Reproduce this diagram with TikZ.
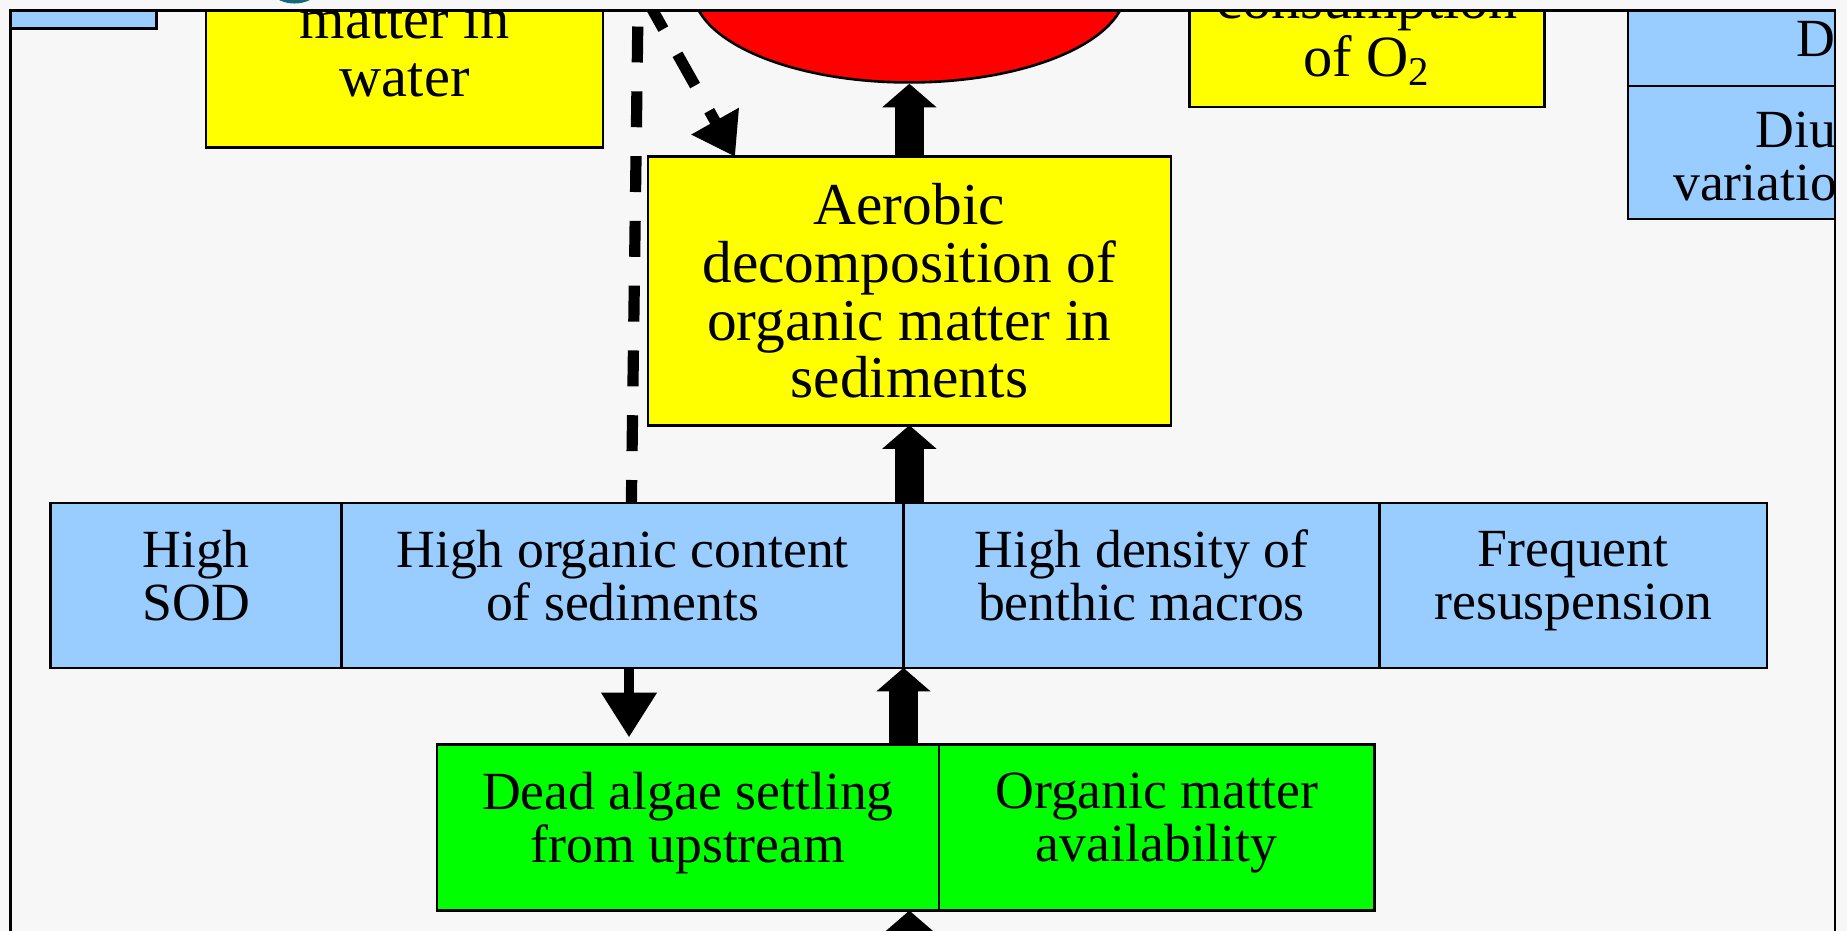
\documentclass[tikz,border=0pt]{standalone}
\usepackage{fontspec}
\setmainfont{Liberation Serif}
\usetikzlibrary{arrows.meta,positioning,shapes.geometric}

\definecolor{slidegray}{RGB}{247,247,247}
\definecolor{cellblue}{RGB}{153,204,255}
\definecolor{cellyellow}{RGB}{255,255,0}
\definecolor{cellgreen}{RGB}{0,255,0}
\definecolor{cellred}{RGB}{255,0,0}
\definecolor{logoteal}{RGB}{22,104,124}

\newcommand{\smallcellfont}{\fontsize{22.8}{22.5}\selectfont}
\newcommand{\bigcellfont}{\fontsize{24.8}{24.5}\selectfont}
\newcommand{\celldepth}{\rule[-8.5pt]{0pt}{8.5pt}}

\begin{document}
\begin{tikzpicture}[x=0.5pt,y=-0.5pt]

\tikzstyle{cell}=[draw,line width=1.1pt,inner sep=0pt,outer sep=0pt,align=center]
\tikzstyle{blue cell}=[cell,fill=cellblue,font=\smallcellfont,minimum height=70pt,execute at end node=\celldepth]
\tikzstyle{green cell}=[cell,fill=cellgreen,font=\smallcellfont,minimum height=70.5pt,execute at end node=\celldepth]
\tikzstyle{yellow cell}=[cell,fill=cellyellow,font=\bigcellfont]
\tikzstyle{cut text}=[inner sep=0pt,align=center]
\tikzstyle{fat arrow}=[line width=12pt,-{Triangle[width=22.5pt,length=10pt]}]
\tikzstyle{thin arrow}=[line width=4.5pt,-{Triangle[width=22.5pt,length=19pt]}]
\tikzstyle{dash arrow}=[line width=4.75pt,dash pattern=on 15.25pt off 12.25pt]

\useasboundingbox (0,0) rectangle (1568,790);
\fill[slidegray] (0,0) rectangle (1568,790);
\fill[logoteal] (250,-27) circle[radius=30];

\begin{scope}
\clip (9,9) rectangle (1558,800);

\node[cell,fill=cellblue,minimum width=62pt,minimum height=22pt] (corner) at (71,2) {};

\node[yellow cell,minimum width=168.5pt,minimum height=100pt] (waterbox) at (343.5,25) {};
\node[cut text,font=\bigcellfont,anchor=base] (watertext) at (343.5,82) {matter in\\water};

\node[ellipse,draw,line width=1.1pt,fill=cellred,minimum width=184pt,minimum height=80pt,inner sep=0pt] (oxygen) at (772,-10) {};

\node[yellow cell,minimum width=150.5pt,minimum height=91pt] (o2box) at (1160.5,0) {};
\node[cut text,font=\bigcellfont,anchor=base] (o2text) at (1160.5,65) {consumption\\of O\textsubscript{2}};

\node[cell,fill=cellblue,minimum width=159pt,minimum height=56.5pt] (dobox) at (1541,16.5) {};
\node[cell,fill=cellblue,minimum width=159pt,minimum height=56.5pt] (diurnalbox) at (1541,129.5) {};
\node[cut text,font=\smallcellfont,anchor=base west] (dotext) at (1525,48) {DO};
\node[cut text,font=\smallcellfont,anchor=base west] (diurnaltext) at (1490,125) {Diurnal};
\node[cut text,font=\smallcellfont,anchor=base west] (variationtext) at (1420,170) {variation};

\node[yellow cell,minimum width=222pt,minimum height=114pt,font=\fontsize{25.2}{24.5}\selectfont] (aerobic) at (772,247)
  {Aerobic\\decomposition of\\organic matter in\\sediments};

\node[blue cell,minimum width=123.5pt] (sod) at (166.5,497) {High\\SOD};
\node[blue cell,minimum width=238.5pt,right=0pt of sod] (organic) {High organic content\\of sediments};
\node[blue cell,minimum width=202pt,right=0pt of organic] (benthic) {High density of\\benthic macros};
\node[blue cell,minimum width=164.5pt,right=0pt of benthic] (resusp) {Frequent\\resuspension};

\node[green cell,minimum width=213pt] (algae) at (584,702.5) {Dead algae settling\\from upstream};
\node[green cell,minimum width=185pt,right=0pt of algae] (availability) {Organic matter\\availability};

\coordinate (upper end) at (542,-20);
\coordinate (slant start) at (538,-20);
\coordinate (lower end) at (772,840);

\draw[fat arrow] (aerobic.north) -- (oxygen.south);
\draw[fat arrow] (aerobic.south |- benthic.north) -- (aerobic.south);
\draw[fat arrow] (benthic.south west |- algae.north) -- (benthic.south west);
\draw[fat arrow] (lower end) -- (lower end |- availability.south);
\draw[thin arrow] ([xshift=2.75pt]organic.south) -- ([xshift=-25pt,yshift=3pt]algae.north);
\draw[dash arrow,dash phase=5.5pt] ([xshift=3.75pt]organic.north) -- (upper end);
\draw[dash arrow,dash phase=17.1pt,-{Triangle[width=22pt,length=17.3pt]}] (slant start) -- ([xshift=37pt]aerobic.north west);
\end{scope}

\draw[line width=1pt] (9,9) rectangle (1558,820);

\end{tikzpicture}
\end{document}
